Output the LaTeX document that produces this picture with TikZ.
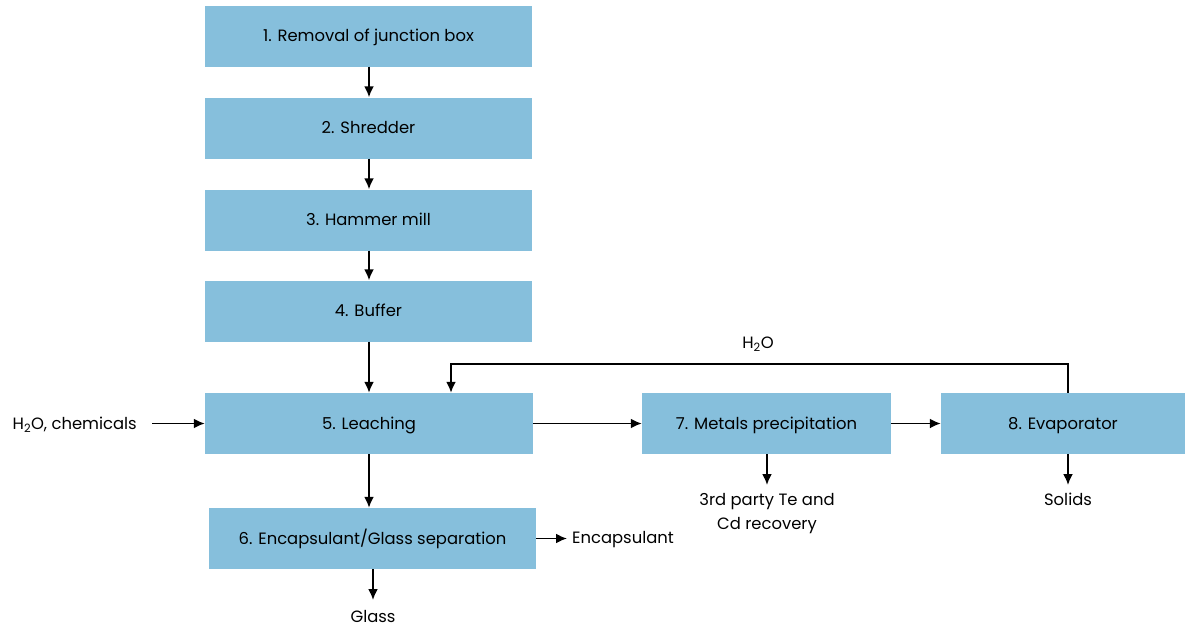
\documentclass[tikz,border=0pt]{standalone}
\usepackage{fontspec}
\setmainfont{Poppins}
\usetikzlibrary{arrows.meta}
\definecolor{boxblue}{HTML}{86BFDC}
\begin{document}
\begin{tikzpicture}[x=1pt,y=-1pt,
  proc/.style={fill=boxblue,draw=none,minimum height=61pt,inner sep=0pt,text height=11.5pt,text depth=0pt,font=\fontsize{16.4}{24}\selectfont},
  lbl/.style={font=\fontsize{16.4}{24}\selectfont,inner sep=0pt,align=center},
  arr/.style={line width=1.9pt,-{Latex[length=11pt,width=10pt]}}]
\useasboundingbox (0,0) rectangle (1185,629);
\node[proc,minimum width=327pt] (b1) at (368.5,36) {1. Removal of junction box};
\node[proc,minimum width=327pt] (b2) at (368.5,128) {2. Shredder};
\node[proc,minimum width=327pt] (b3) at (368.5,220) {3. Hammer mill};
\node[proc,minimum width=327pt] (b4) at (368.5,311) {4. Buffer};
\node[proc,minimum width=328pt] (b5) at (369,423.5) {5. Leaching};
\node[proc,minimum width=327pt] (b6) at (372.5,538.5) {6. Encapsulant/Glass separation};
\node[proc,minimum width=249pt] (b7) at (766.5,423.5) {7. Metals precipitation};
\node[proc,minimum width=244pt] (b8) at (1063,423.5) {8. Evaporator};
\node[lbl,anchor=east] (in) at (137,425) {H\textsubscript{2}O, chemicals};
\node[lbl] (h2o) at (758,344.5) {H\textsubscript{2}O};
\node[lbl,anchor=north] (te) at (767,493) {3rd party Te and\\Cd recovery};
\node[lbl,anchor=north] (sol) at (1068,493) {Solids};
\node[lbl,anchor=north] (gl) at (373,610) {Glass};
\node[lbl,anchor=west] (enc) at (572,540) {Encapsulant};
\draw[arr] (b1.south -| 369,0) -- (b2.north -| 369,0);
\draw[arr] (b2.south -| 369,0) -- (b3.north -| 369,0);
\draw[arr] (b3.south -| 369,0) -- (b4.north -| 369,0);
\draw[arr] (b4.south -| 369,0) -- (b5.north -| 369,0);
\draw[arr] (b5.south -| 369,0) -- (b6.north -| 369,0);
\draw[arr] (152,423.5) -- (b5.west);
\draw[arr] (b5.east) -- (b7.west);
\draw[arr] (b7.east) -- (b8.west);
\draw[arr] (b8.north -| 1068,0) -- (1068,364) -- (451,364) -- (b5.north -| 451,0);
\draw[arr] (b7.south -| 767,0) -- (767,485);
\draw[arr] (b8.south -| 1068,0) -- (1068,485);
\draw[arr] (b6.south -| 373,0) -- (373,600);
\draw[arr] (b6.east) -- (567,538.5);
\end{tikzpicture}
\end{document}
